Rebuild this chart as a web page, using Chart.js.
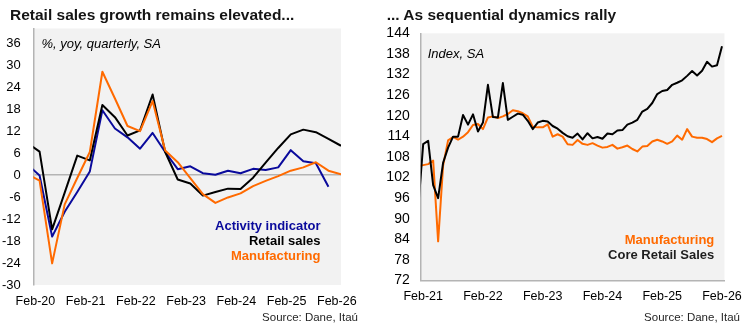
<!DOCTYPE html>
<html>
<head>
<meta charset="utf-8">
<script src="https://cdn.jsdelivr.net/npm/chart.js@4/dist/chart.umd.min.js"></script>
<style>
  html, body { margin: 0; padding: 0; background: #fff; }
  body { width: 751px; height: 331px; position: relative; overflow: hidden;
         font-family: "Liberation Sans", Arial, sans-serif; }
  .panel { position: absolute; top: 0; height: 331px; }
  .panel canvas { position: absolute; left: 0; top: 0; }
  .t { position: absolute; white-space: nowrap; line-height: 1; }
  .title { font-weight: bold; font-size: 15.5px; color: #141414; }
  .sub { font-style: italic; font-size: 13px; color: #000; }
  .leg { font-weight: bold; font-size: 13px; text-align: right; }
  .src { font-size: 11.5px; color: #262626; }
</style>
</head>
<body>

<div class="panel" style="left:0; width:375px;">
  <canvas id="yoyChart" width="375" height="331"></canvas>
  <div class="t title" style="left:10px; top:7px;">Retail sales growth remains elevated...</div>
  <div class="t sub" style="left:41.5px; top:36.5px;">%, yoy, quarterly, SA</div>
  <div class="t leg" id="legAct" style="right:54.5px; top:218.8px;">Activity indicator</div>
  <div class="t leg" id="legRet" style="right:54.5px; top:233.5px;">Retail sales</div>
  <div class="t leg" id="legMan1" style="right:54.5px; top:248.8px;">Manufacturing</div>
  <div class="t src" style="right:17px; top:312px;">Source: Dane, Itaú</div>
</div>

<div class="panel" style="left:375px; width:376px;">
  <canvas id="indexChart" width="376" height="331"></canvas>
  <div class="t title" style="left:11.7px; top:6.5px;">... As sequential dynamics rally</div>
  <div class="t sub" style="left:52.7px; top:46.8px;">Index, SA</div>
  <div class="t leg" id="legMan2" style="right:36.7px; top:232.8px;">Manufacturing</div>
  <div class="t leg" id="legCore" style="right:36.7px; top:247.8px;">Core Retail Sales</div>
  <div class="t src" style="right:11px; top:312.3px;">Source: Dane, Itaú</div>
</div>

<script>
// ---- Quarterly growth, % yoy (left panel) ----
const quarters = ['Dec-19','Mar-20','Jun-20','Sep-20','Dec-20','Mar-21','Jun-21','Sep-21','Dec-21',
                  'Mar-22','Jun-22','Sep-22','Dec-22','Mar-23','Jun-23','Sep-23','Dec-23',
                  'Mar-24','Jun-24','Sep-24','Dec-24','Mar-25','Jun-25','Sep-25','Dec-25','Mar-26'];
const activityYoy = [3.0, -0.1, -16.8, -10.0, -4.6, 1.0, 17.7, 12.7, 10.3,
                     7.2, 11.5, 6.3, 1.6, 2.4, 0.5, 0.1, 1.2,
                     0.5, 1.7, 1.4, 2.1, 6.8, 3.8, 3.2, -3.2, null];
const retailYoy   = [8.8, 6.4, -14.8, -4.8, 5.3, 4.0, 19.1, 15.8, 10.8,
                     12.2, 22.0, 6.3, -1.2, -2.3, -5.6, -4.6, -3.7,
                     -3.8, -0.7, 3.4, 7.4, 11.1, 12.4, 11.7, 9.9, 8.0];
const manufYoy    = [0.3, -1.5, -24.1, -8.0, -0.8, 6.3, 28.2, 20.9, 13.4,
                     12.0, 20.2, 6.7, 3.5, -0.8, -5.2, -7.6, -6.1,
                     -5.0, -3.0, -1.6, -0.3, 1.2, 2.1, 3.5, 1.2, 0.2];
const yoyTicks    = [-30, -24, -18, -12, -6, 0, 6, 12, 18, 24, 30, 36];
const yoyXTicks   = ['Feb-20','Feb-21','Feb-22','Feb-23','Feb-24','Feb-25','Feb-26'];

// ---- Monthly indices, SA (right panel), Jan-21 .. Feb-26 ----
const firstMonth = 'Jan-21';
const coreRetailIdx = [93.0, 111.7, 112.7, 99.8, 96.0, 106.3, 110.7, 113.9, 113.9, 120.2, 117.4, 120.4,
                       115.4, 118.0, 129.0, 119.6, 119.5, 129.5, 118.8, 119.7, 120.6, 120.3, 118.5, 116.1,
                       118.0, 118.5, 118.3, 117.0, 116.2, 115.0, 114.0, 113.6, 114.8, 113.1, 114.9, 113.4,
                       113.8, 113.3, 114.8, 114.6, 115.7, 115.8, 117.4, 118.0, 118.8, 121.2, 122.0, 123.7,
                       126.3, 127.2, 127.5, 129.0, 129.6, 130.3, 131.6, 133.0, 131.7, 133.1, 135.7, 134.3,
                       134.7, 140.2];
const manufIdx      = [105.3, 105.6, 105.9, 106.9, 83.4, 105.5, 112.8, 113.8, 113.0, 113.9, 115.2, 117.3,
                       117.6, 116.1, 119.5, 119.8, 119.3, 119.8, 120.5, 121.6, 121.3, 120.7, 119.8, 116.8,
                       116.6, 116.6, 117.5, 113.9, 114.6, 113.9, 111.7, 111.5, 112.9, 111.8, 111.5, 112.0,
                       111.3, 110.7, 110.9, 111.5, 110.4, 110.8, 111.3, 110.3, 109.6, 111.0, 111.2, 112.5,
                       113.0, 112.5, 111.8, 112.5, 114.2, 113.0, 116.1, 113.9, 113.6, 113.6, 113.2, 112.3,
                       113.4, 114.1];
const idxTicks   = [72, 78, 84, 90, 96, 102, 108, 114, 120, 126, 132, 138, 144];
const idxXTicks  = ['Feb-21','Feb-22','Feb-23','Feb-24','Feb-25','Feb-26'];

// ---- Styling ----
const FONT = '"Liberation Sans", Arial, sans-serif';
const BLUE = '#0A0A9C';
const BLACK = '#000000';
const ORANGE = '#FF6A00';
const PLOT_BG = '#F2F2F2';
const AXIS_GRAY = '#B4B4B4';

Chart.defaults.font.family = FONT;
Chart.defaults.color = '#000';

const MONTHS = ['Jan','Feb','Mar','Apr','May','Jun','Jul','Aug','Sep','Oct','Nov','Dec'];
// "Mmm-YY" -> months since Jan-2020
function monthIndex(label) {
  const [m, y] = label.split('-');
  return (2000 + Number(y) - 2020) * 12 + MONTHS.indexOf(m);
}
function toPoints(labels, values) {
  return labels.map((l, i) => ({ x: monthIndex(l), y: values[i] }));
}
const monthStart = monthIndex(firstMonth);
const monthlyX = coreRetailIdx.map((_, i) => monthStart + i);
function toMonthly(values) {
  return values.map((v, i) => ({ x: monthlyX[i], y: v }));
}

document.getElementById('legAct').style.color = BLUE;
document.getElementById('legRet').style.color = BLACK;
document.getElementById('legMan1').style.color = ORANGE;
document.getElementById('legMan2').style.color = ORANGE;
document.getElementById('legCore').style.color = '#1E1E1E';

const plotBg = {
  id: 'plotBg',
  beforeDraw(chart) {
    const { ctx, chartArea: a } = chart;
    ctx.save();
    ctx.fillStyle = PLOT_BG;
    ctx.fillRect(a.left, a.top, a.right - a.left, a.bottom - a.top);
    ctx.restore();
  }
};

const common = {
  responsive: false,
  animation: false,
  devicePixelRatio: 1,
  plugins: { legend: { display: false }, tooltip: { enabled: false } },
  elements: {
    line: { borderWidth: 2, tension: 0, borderJoinStyle: 'round', fill: false },
    point: { radius: 0, hoverRadius: 0 }
  }
};

// Left panel: quarterly yoy growth
new Chart(document.getElementById('yoyChart'), {
  type: 'line',
  data: {
    datasets: [
      { label: 'Activity indicator', data: toPoints(quarters, activityYoy), borderColor: BLUE, order: 3 },
      { label: 'Retail sales', data: toPoints(quarters, retailYoy), borderColor: BLACK, order: 2 },
      { label: 'Manufacturing', data: toPoints(quarters, manufYoy), borderColor: ORANGE, order: 1 }
    ]
  },
  options: Object.assign({}, common, {
    layout: { padding: { left: 0, top: 28.5, right: 34, bottom: 0 } },
    scales: {
      x: {
        type: 'linear', min: 0.5, max: 74,
        afterBuildTicks: s => { s.ticks = yoyXTicks.map(l => ({ value: monthIndex(l) })); },
        afterFit: s => { s.height = 46; },
        grid: { display: false, drawTicks: false },
        border: { display: false },
        ticks: { callback: (v, i) => yoyXTicks[i], font: { size: 12.5 }, color: '#000',
                 padding: 9.5, maxRotation: 0, autoSkip: false }
      },
      y: {
        type: 'linear', min: -30, max: 40,
        afterBuildTicks: s => { s.ticks = yoyTicks.map(v => ({ value: v })); },
        afterFit: s => { s.width = 33.3; },
        grid: {
          drawTicks: false,
          color: c => (c.tick && c.tick.value === 0) ? AXIS_GRAY : 'rgba(0,0,0,0)',
          lineWidth: 1.5
        },
        border: { display: true, color: AXIS_GRAY, width: 1.5 },
        ticks: { font: { size: 13 }, color: '#000', padding: 12.6 }
      }
    }
  }),
  plugins: [plotBg]
});

// Right panel: monthly indices
new Chart(document.getElementById('indexChart'), {
  type: 'line',
  data: {
    datasets: [
      { label: 'Core Retail Sales', data: toMonthly(coreRetailIdx), borderColor: BLACK, order: 1 },
      { label: 'Manufacturing', data: toMonthly(manufIdx), borderColor: ORANGE, order: 2 }
    ]
  },
  options: Object.assign({}, common, {
    layout: { padding: { left: 0, top: 33.3, right: 25, bottom: 0 } },
    scales: {
      x: {
        type: 'linear', min: monthIndex('Feb-21') - 0.5, max: monthIndex('Feb-26') + 0.5,
        afterBuildTicks: s => { s.ticks = idxXTicks.map(l => ({ value: monthIndex(l) })); },
        afterFit: s => { s.height = 50.5; },
        grid: { display: false, drawTicks: false },
        border: { display: true, color: AXIS_GRAY, width: 1.5 },
        ticks: { callback: (v, i) => idxXTicks[i], font: { size: 12.5 }, color: '#000',
                 padding: 9, maxRotation: 0, autoSkip: false }
      },
      y: {
        type: 'linear', min: 72, max: 144,
        afterBuildTicks: s => { s.ticks = idxTicks.map(v => ({ value: v })); },
        afterFit: s => { s.width = 45.7; },
        grid: { display: false },
        border: { display: true, color: AXIS_GRAY, width: 1.5 },
        ticks: { font: { size: 14 }, color: '#000', padding: 3 }
      }
    }
  }),
  plugins: [plotBg]
});
</script>
</body>
</html>
